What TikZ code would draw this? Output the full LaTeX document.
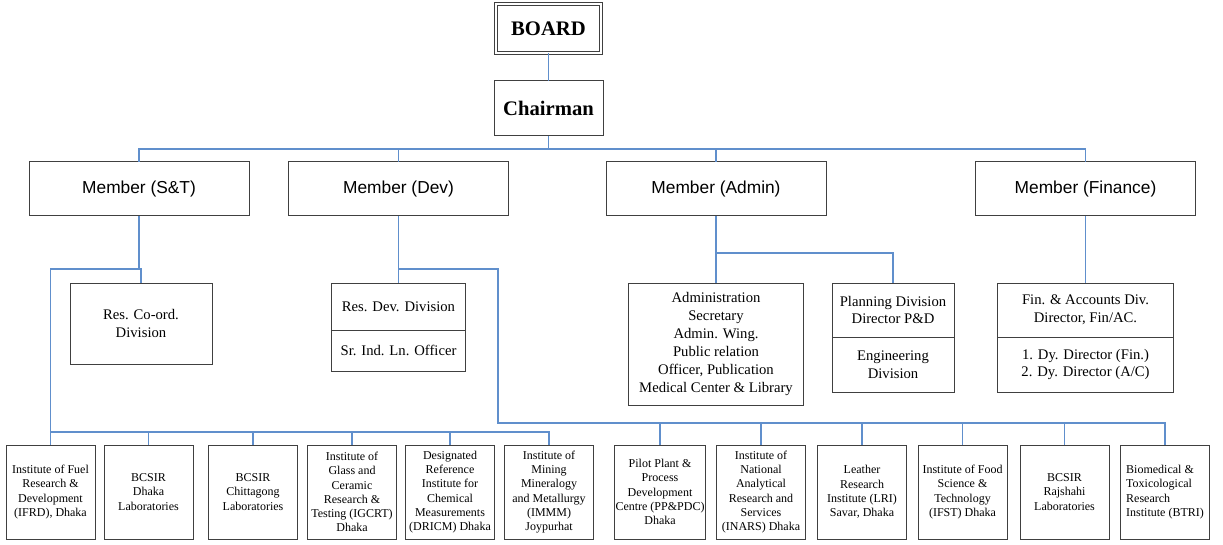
\documentclass[tikz,border=0pt]{standalone}
\usepackage{fontspec}
\setmainfont{Liberation Serif}
\setsansfont{Liberation Sans}
\usetikzlibrary{positioning}
\definecolor{linkblue}{RGB}{96,143,204}

\begin{document}
\begin{tikzpicture}[x=0.75pt, y=-0.75pt,
	box/.style={draw=black!75, line width=0.75pt, inner sep=1pt, outer sep=0pt, align=center},
	member/.style={box, minimum width=220*0.75pt, minimum height=54*0.75pt, font=\sffamily\fontsize{13}{15}\selectfont},
	mid/.style={box, font=\fontsize{11}{13.4}\selectfont},
	inst/.style={box, minimum width=89*0.75pt, minimum height=94*0.75pt, font=\fontsize{9}{10.7}\selectfont},
	link/.style={draw=linkblue, line width=0.8pt}]
				\useasboundingbox (0,0) rectangle (1223,545);
				\node[box, double, double distance=1.5pt, minimum width=105*0.75pt, minimum height=49*0.75pt, font=\bfseries\fontsize{15.5}{18}\selectfont] (board) at (548.5,28.5) {BOARD};
				\node[box, minimum width=109*0.75pt, minimum height=55*0.75pt, font=\bfseries\fontsize{15.5}{18}\selectfont] (chair) at (548.5,108.5) {Chairman};
				\node[member] (mst) at (139,189) {Member (S\&T)};
				\node[member] (mdev) at (398.5,189) {Member (Dev)};
				\node[member] (madm) at (716,189) {Member (Admin)};
				\node[member] (mfin) at (1085.5,189) {Member (Finance)};
				\node[mid, minimum width=142*0.75pt, minimum height=81*0.75pt] (rco) at (141,323.5) {Res. Co-ord.\\Division};
				\node[mid, minimum width=134*0.75pt, minimum height=47*0.75pt] (rdd) at (398.5,306.5) {Res. Dev. Division};
				\node[mid, minimum width=134*0.75pt, minimum height=41*0.75pt, below=0pt of rdd] (sio) {Sr. Ind. Ln. Officer};
				\node[mid, minimum width=175*0.75pt, minimum height=122*0.75pt] (adm) at (716,344) {Administration\\Secretary\\Admin. Wing.\\Public relation\\Officer, Publication\\Medical Center \& Library};
				\node[mid, minimum width=122*0.75pt, minimum height=54*0.75pt] (pln) at (893,310) {Planning Division\\Director P\&D};
				\node[mid, minimum width=122*0.75pt, minimum height=55*0.75pt, below=0pt of pln] (eng) {Engineering\\Division};
				\node[mid, minimum width=176*0.75pt, minimum height=54*0.75pt] (fin) at (1085.5,310) {Fin. \& Accounts Div.\\Director, Fin/AC.};
				\node[mid, minimum width=176*0.75pt, minimum height=55*0.75pt, below=0pt of fin] (dyd) {1. Dy. Director (Fin.)\\2. Dy. Director (A/C)};
				\node[inst] (l1) at (50.5,492) {Institute of Fuel\\Research \&\\Development\\(IFRD), Dhaka};
				\node[inst] (l2) at (148.5,492) {BCSIR\\Dhaka\\Laboratories};
				\node[inst] (l3) at (253,492) {BCSIR\\Chittagong\\Laboratories};
				\node[inst] (l4) at (352,492) {Institute of\\Glass and\\Ceramic\\Research \&\\Testing (IGCRT)\\Dhaka};
				\node[inst] (l5) at (450,492) {Designated\\Reference\\Institute for\\Chemical\\Measurements\\(DRICM) Dhaka};
				\node[inst] (l6) at (549,492) {Institute of\\Mining\\Mineralogy\\and Metallurgy\\(IMMM)\\Joypurhat};
				\node[inst] (r1) at (660,492) {Pilot Plant \&\\Process\\Development\\Centre (PP\&PDC)\\Dhaka};
				\node[inst] (r2) at (761,492) {Institute of\\National\\Analytical\\Research and\\Services\\(INARS) Dhaka};
				\node[inst] (r3) at (862,492) {Leather\\Research\\Institute (LRI)\\Savar, Dhaka};
				\node[inst] (r4) at (962.5,492) {Institute of Food\\Science \&\\Technology\\(IFST) Dhaka};
				\node[inst] (r5) at (1064.5,492) {BCSIR\\Rajshahi\\Laboratories};
				\node[inst, align=left] (r6) at (1165,492) {Biomedical \&\\Toxicological\\Research\\Institute (BTRI)};
				\coordinate (top) at (548.5,149);
				\coordinate (stj) at (141,269);
				\coordinate (dvj) at (498,269);
				\coordinate (adj) at (0,253);
				\coordinate (lbus) at (0,432);
				\coordinate (rbus) at (0,423);
				\draw[link] (board) -- (chair);
				\draw[link] (chair) -- (top);
				\draw[link] (mst) |- (top) -| (mfin);
				\foreach \m in {mdev,madm} \draw[link] (\m) -- (\m |- top);
				\draw[link] (mst) |- (stj) -- (rco);
				\draw[link] (stj) -| (l1);
				\draw[link] (l1 |- lbus) -| (l6);
				\foreach \n in {l2,l3,l4,l5} \draw[link] (\n) -- (\n |- lbus);
				\draw[link] (mdev) -- (rdd);
				\draw[link] (mdev |- dvj) -- (dvj) -- (dvj |- rbus) -| (r6);
				\foreach \n in {r1,r2,r3,r4,r5} \draw[link] (\n) -- (\n |- rbus);
				\draw[link] (madm) -- (adm);
				\draw[link] (madm |- adj) -| (pln);
				\draw[link] (mfin) -- (fin);
			\end{tikzpicture}
\end{document}
